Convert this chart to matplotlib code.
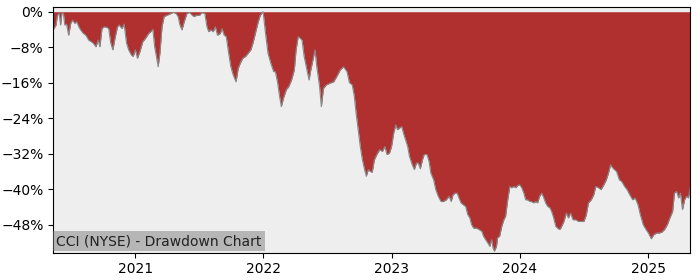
import matplotlib
matplotlib.use('Agg')
import matplotlib.pyplot as plt
import matplotlib.dates as mdates
from matplotlib.ticker import FuncFormatter
import pandas as pd

# Datas e drawdown (%)
datas = [
    '2020-05-12', '2020-05-20', '2020-05-24', '2020-05-29', '2020-06-02', '2020-06-06', '2020-06-10',
    '2020-06-14', '2020-06-19', '2020-06-25', '2020-07-01', '2020-07-06', '2020-07-12', '2020-07-18',
    '2020-07-24', '2020-07-29', '2020-08-06', '2020-08-13', '2020-08-21', '2020-08-29', '2020-09-03',
    '2020-09-11', '2020-09-17', '2020-09-22', '2020-09-28', '2020-10-04', '2020-10-11', '2020-10-17',
    '2020-10-23', '2020-10-29', '2020-11-04', '2020-11-11', '2020-11-16', '2020-11-24', '2020-11-30',
    '2020-12-07', '2020-12-13', '2020-12-21', '2020-12-26', '2021-01-01', '2021-01-07', '2021-01-14',
    '2021-01-22', '2021-01-30', '2021-02-08', '2021-02-14', '2021-02-20', '2021-02-25', '2021-03-03',
    '2021-03-07', '2021-03-12', '2021-03-18', '2021-03-24', '2021-04-01', '2021-04-10', '2021-04-19',
    '2021-04-27', '2021-05-03', '2021-05-08', '2021-05-14', '2021-05-20', '2021-05-28', '2021-06-04',
    '2021-06-12', '2021-06-17', '2021-06-25', '2021-07-03', '2021-07-10', '2021-07-18', '2021-07-24',
    '2021-07-29', '2021-08-04', '2021-08-11', '2021-08-17', '2021-08-23', '2021-08-31', '2021-09-05',
    '2021-09-11', '2021-09-17', '2021-09-24', '2021-09-30', '2021-10-07', '2021-10-15', '2021-10-21',
    '2021-10-27', '2021-11-03', '2021-11-11', '2021-11-18', '2021-11-26', '2021-12-02', '2021-12-09',
    '2021-12-17', '2021-12-23', '2021-12-31', '2022-01-07', '2022-01-14', '2022-01-22', '2022-01-30',
    '2022-02-04', '2022-02-10', '2022-02-16', '2022-02-21', '2022-02-27', '2022-03-07', '2022-03-14',
    '2022-03-22', '2022-03-30', '2022-04-04', '2022-04-10', '2022-04-16', '2022-04-21', '2022-04-27',
    '2022-05-03', '2022-05-11', '2022-05-16', '2022-05-22', '2022-05-28', '2022-06-02', '2022-06-10',
    '2022-06-15', '2022-06-21', '2022-06-29', '2022-07-10', '2022-07-20', '2022-07-29', '2022-08-08',
    '2022-08-17', '2022-08-27', '2022-09-03', '2022-09-11', '2022-09-17', '2022-09-22', '2022-09-28',
    '2022-10-04', '2022-10-10', '2022-10-15', '2022-10-21', '2022-10-27', '2022-11-01', '2022-11-07',
    '2022-11-13', '2022-11-20', '2022-11-28', '2022-12-06', '2022-12-13', '2022-12-19', '2022-12-26',
    '2023-01-01', '2023-01-07', '2023-01-13', '2023-01-18', '2023-01-24', '2023-01-30', '2023-02-04',
    '2023-02-10', '2023-02-16', '2023-02-21', '2023-03-01', '2023-03-07', '2023-03-13', '2023-03-18',
    '2023-03-24', '2023-03-30', '2023-04-04', '2023-04-12', '2023-04-18', '2023-04-23', '2023-05-01',
    '2023-05-07', '2023-05-14', '2023-05-22', '2023-05-29', '2023-06-06', '2023-06-14', '2023-06-20',
    '2023-06-25', '2023-07-01', '2023-07-07', '2023-07-12', '2023-07-18', '2023-07-24', '2023-07-31',
    '2023-08-06', '2023-08-12', '2023-08-17', '2023-08-23', '2023-08-31', '2023-09-07', '2023-09-15',
    '2023-09-20', '2023-09-26', '2023-10-02', '2023-10-08', '2023-10-13', '2023-10-17', '2023-10-21',
    '2023-10-27', '2023-10-30', '2023-11-05', '2023-11-11', '2023-11-17', '2023-11-22', '2023-11-28',
    '2023-12-04', '2023-12-09', '2023-12-15', '2023-12-21', '2023-12-26', '2024-01-01', '2024-01-07',
    '2024-01-13', '2024-01-18', '2024-01-24', '2024-01-30', '2024-02-04', '2024-02-10', '2024-02-16',
    '2024-02-21', '2024-02-27', '2024-03-04', '2024-03-10', '2024-03-15', '2024-03-21', '2024-03-27',
    '2024-04-01', '2024-04-07', '2024-04-13', '2024-04-21', '2024-04-26', '2024-05-06', '2024-05-13',
    '2024-05-19', '2024-05-25', '2024-06-01', '2024-06-09', '2024-06-17', '2024-06-24', '2024-07-02',
    '2024-07-09', '2024-07-15', '2024-07-23', '2024-07-30', '2024-08-05', '2024-08-13', '2024-08-20',
    '2024-08-28', '2024-09-04', '2024-09-10', '2024-09-16', '2024-09-22', '2024-09-27', '2024-10-03',
    '2024-10-11', '2024-10-18', '2024-10-26', '2024-11-02', '2024-11-10', '2024-11-18', '2024-11-25',
    '2024-12-03', '2024-12-10', '2024-12-18', '2024-12-26', '2025-01-02', '2025-01-10', '2025-01-17',
    '2025-01-25', '2025-02-02', '2025-02-09', '2025-02-17', '2025-02-25', '2025-03-04', '2025-03-12',
    '2025-03-17', '2025-03-23', '2025-03-29', '2025-04-03', '2025-04-09', '2025-04-15', '2025-04-21',
    '2025-04-26', '2025-05-01',
]

drawdown = [
    -4.1, -3.0, -0.8, -0.4, -3.0, -0.2, -0.4,
    -3.0, -2.8, -5.3, -2.6, -1.9, -2.6, -2.3,
    -3.4, -4.1, -4.9, -5.3, -6.4, -6.8, -7.1,
    -7.9, -6.4, -7.9, -3.8, -3.4, -3.5, -3.8,
    -7.1, -8.6, -6.0, -3.4, -3.0, -3.8, -2.8,
    -7.1, -8.6, -9.8, -10.1, -8.6, -10.5, -9.0,
    -6.8, -6.0, -4.9, -4.5, -4.0, -7.9, -10.5,
    -12.4, -9.4, -3.4, -1.1, -0.8, -0.5, -0.15,
    -0.4, -1.1, -3.0, -4.1, -2.3, -0.4, -0.15,
    -0.8, -1.1, -0.8, -0.8, -0.2, -0.4, -3.4,
    -4.5, -4.1, -4.5, -3.4, -5.3, -4.9, -3.8,
    -5.3, -5.6, -9.4, -12.4, -14.3, -15.8, -12.8,
    -11.6, -10.5, -10.1, -9.4, -8.6, -7.1, -4.9,
    -2.3, -0.8, 0.0, -4.9, -9.4, -11.6, -13.5,
    -13.5, -15.8, -19.1, -21.4, -19.5, -17.6, -16.9,
    -15.4, -13.1, -8.6, -5.6, -6.0, -6.4, -10.1,
    -12.4, -15.4, -13.1, -10.9, -8.6, -12.4, -16.9,
    -21.4, -17.3, -16.5, -16.1, -15.8, -14.6, -13.1,
    -12.4, -13.5, -16.0, -16.5, -19.1, -22.9, -26.6,
    -30.4, -33.4, -35.2, -37.1, -35.6, -36.0, -36.2,
    -33.4, -32.2, -31.1, -31.5, -30.4, -32.2, -31.9,
    -30.4, -27.4, -25.5, -26.6, -26.2, -25.9, -27.4,
    -28.9, -30.4, -32.6, -34.5, -35.6, -34.1, -34.1,
    -35.4, -33.4, -32.2, -32.2, -33.8, -36.4, -37.9,
    -40.1, -41.6, -42.8, -42.8, -42.4, -41.6, -42.8,
    -41.3, -40.9, -40.9, -42.0, -43.1, -43.5, -43.9,
    -45.7, -46.5, -48.0, -48.8, -48.8, -49.1, -49.5,
    -50.6, -51.4, -52.1, -52.9, -51.4, -53.2, -54.0,
    -52.9, -51.0, -50.6, -48.4, -46.9, -46.1, -42.4,
    -39.4, -39.7, -39.4, -39.7, -39.2, -39.0, -39.7,
    -40.9, -42.4, -42.4, -42.8, -42.8, -43.1, -42.8,
    -43.1, -41.6, -40.9, -42.0, -43.1, -43.9, -44.2,
    -45.0, -46.5, -48.4, -49.0, -49.0, -47.3, -45.4,
    -46.5, -45.4, -46.9, -46.9, -47.3, -47.3, -47.3,
    -45.8, -43.1, -42.4, -41.3, -39.4, -39.7, -40.1,
    -39.0, -37.9, -36.4, -34.5, -35.2, -35.6, -36.0,
    -37.9, -38.3, -39.4, -40.1, -41.3, -42.4, -42.0,
    -43.5, -45.8, -48.0, -49.1, -49.9, -51.2, -50.3,
    -49.9, -49.9, -49.7, -49.1, -48.0, -46.5, -45.0,
    -40.9, -40.5, -42.0, -40.9, -44.6, -42.4, -41.6,
    -42.0, -39.7,
]

ticks_y = [0, -8, -16, -24, -32, -40, -48]
titulo = 'CCI (NYSE) - Drawdown Chart'

x = pd.to_datetime(datas)

fig = plt.figure(figsize=(7, 2.8), dpi=100)
ax = fig.add_axes([0.076, 0.098, 0.910, 0.876])
ax.set_facecolor('#eeeeee')

# area vermelha entre 0 e a curva de drawdown
ax.fill_between(x, drawdown, 0, color='#b03030', linewidth=0)
ax.plot(x, drawdown, color='#888888', linewidth=0.8)

ax.set_xlim(x[0], x[-1])
ax.set_ylim(-54.3, 1.0)
ax.set_yticks(ticks_y)
ax.yaxis.set_major_formatter(FuncFormatter(lambda v, p: f'{v:.0f}%'.replace('-', '\u2212')))
ax.xaxis.set_major_locator(mdates.YearLocator())
ax.xaxis.set_major_formatter(mdates.DateFormatter('%Y'))

# rotulo no canto inferior esquerdo (caixa encostada no eixo)
ax.annotate(titulo, xy=(0, 0), xycoords='axes fraction',
            xytext=(2.2, 3), textcoords='offset points',
            ha='left', va='bottom', fontsize=10, color='#222222',
            bbox=dict(facecolor='#808080', alpha=0.5, edgecolor='none', pad=2.2))

plt.savefig('out.png', dpi=100)
plt.close()
